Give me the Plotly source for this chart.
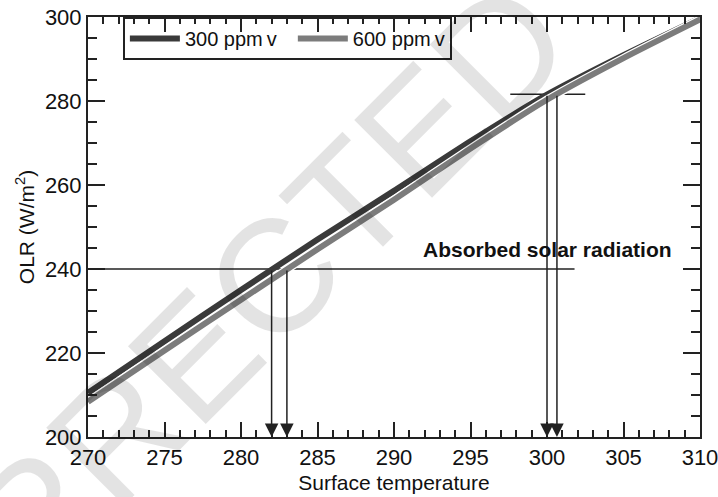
import plotly.graph_objects as go

# ---- data ----
temps = [270, 275, 280, 285, 290, 295, 300, 305, 310]
olr_300 = [210.5, 222.8, 235.0, 247.0, 258.6, 270.4, 281.5, 290.9, 299.7]
olr_600 = [208.4, 220.6, 232.7, 244.7, 256.5, 268.7, 280.3, 290.2, 299.4]

asr_levels = [240, 281.6]                  # absorbed solar radiation levels
asr_x_spans = [[270, 301.8], [297.6, 302.5]]
eq_temps_300 = [282.0, 300.0]              # equilibrium temperatures
eq_temps_600 = [283.0, 300.65]

x_ticks = [270, 275, 280, 285, 290, 295, 300, 305, 310]
y_ticks = [200, 220, 240, 260, 280, 300]

series_names = ["300 ppm\u2009v\u00a0\u00a0", "600 ppm\u2009v"]

DARK = "#3a3a3a"
GRAY = "#7c7c7c"
AX = "#222222"
FONT = "Liberation Sans, Arial, sans-serif"

fig = go.Figure()

# absorbed solar radiation lines
for lvl, span in zip(asr_levels, asr_x_spans):
    fig.add_trace(go.Scatter(x=span, y=[lvl, lvl], mode="lines",
                             line=dict(color=AX, width=1.6),
                             showlegend=False, hoverinfo="skip"))

fig.add_trace(go.Scatter(x=temps, y=olr_300, mode="lines", name=series_names[0],
                         line=dict(color=DARK, width=6, shape="spline", smoothing=0.6)))
fig.add_trace(go.Scatter(x=temps, y=olr_600, mode="lines", showlegend=False,
                         line=dict(color="white", width=8.5, shape="spline", smoothing=0.6),
                         hoverinfo="skip"))
fig.add_trace(go.Scatter(x=temps, y=olr_600, mode="lines", name=series_names[1],
                         line=dict(color=GRAY, width=6, shape="spline", smoothing=0.6)))

# arrows down to the equilibrium temperatures
for lvl, t3, t6 in zip(asr_levels, eq_temps_300, eq_temps_600):
    for t in (t3, t6):
        fig.add_annotation(x=t, y=200, ax=t, ay=lvl, xref="x", yref="y",
                           axref="x", ayref="y", text="", showarrow=True,
                           arrowhead=2, arrowsize=1.8, arrowwidth=1.5,
                           arrowcolor=AX, standoff=0, startstandoff=0)

fig.add_annotation(x=300.0, y=244.6, xref="x", yref="y",
                   text="<b>Absorbed solar radiation</b>", showarrow=False,
                   font=dict(family=FONT, size=21, color="#111"))

# watermark
fig.add_annotation(x=0.155, y=0.162, xref="paper", yref="paper",
                   xanchor="center", yanchor="middle",
                   text="CORRECTED", showarrow=False, textangle=-45,
                   font=dict(family=FONT, size=160, color="rgba(0,0,0,0.11)"))

axis_common = dict(showline=True, linewidth=2, linecolor=AX, mirror="allticks",
                   ticks="inside", tickcolor=AX, tickwidth=2,
                   showgrid=False, zeroline=False, automargin=False,
                   ticklabeloverflow="allow",
                   tickfont=dict(family=FONT, size=22, color="#111"))

fig.update_xaxes(range=[270, 310], tickvals=x_ticks, ticklen=15,
                 minor=dict(dtick=1, ticklen=7, tickwidth=2, tickcolor=AX, ticks="inside"),
                 title=dict(text="Surface temperature", standoff=6,
                            font=dict(family=FONT, size=21, color="#111")),
                 **axis_common)
fig.update_yaxes(range=[200, 300], tickvals=y_ticks, ticklen=17,
                 minor=dict(dtick=5, ticklen=9, tickwidth=2, tickcolor=AX, ticks="inside"),
                 title=dict(text="OLR (W/m<sup>2</sup>)", standoff=5,
                            font=dict(family=FONT, size=21, color="#111")),
                 **axis_common)

fig.update_layout(
    width=718, height=497,
    margin=dict(l=88, r=18, t=17, b=60),
    paper_bgcolor="white", plot_bgcolor="white",
    font=dict(family=FONT, size=20, color="#111"),
    legend=dict(orientation="h", x=0.057, y=1, xanchor="left", yanchor="top",
                bgcolor="rgba(255,255,255,0)", bordercolor=AX, borderwidth=2,
                itemwidth=50,
                font=dict(family=FONT, size=20, color="#111")),
)

fig.write_html("out.html", config={"displayModeBar": False},
               post_script="document.body.style.margin='0';document.body.style.padding='0';")
